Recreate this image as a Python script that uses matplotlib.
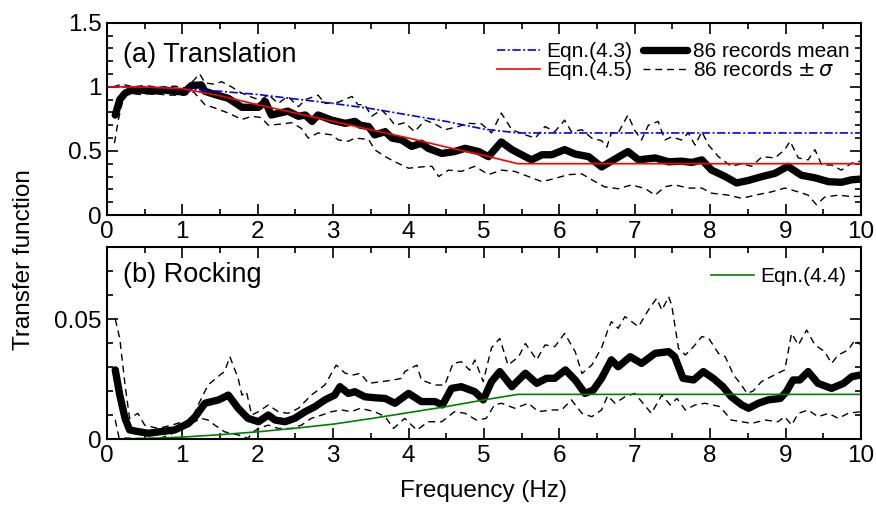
import numpy as np
import matplotlib
matplotlib.use("Agg")
import matplotlib.pyplot as plt
from matplotlib.ticker import MultipleLocator, FuncFormatter

plt.rcParams["font.family"] = ["Liberation Sans", "DejaVu Sans"]
plt.rcParams["mathtext.fontset"] = "dejavusans"

# ====== (a) translation: 86 records mean / ± sigma ======
freq_a_mean = [0.11, 0.17, 0.24, 0.31, 0.45, 0.6, 0.75, 0.9, 1.03, 1.12, 1.25, 1.30,
               1.43, 1.61, 1.79, 2.01, 2.10, 2.18, 2.40, 2.54, 2.63, 2.72, 2.80, 2.98,
               3.16, 3.29, 3.36, 3.47, 3.55, 3.69, 3.78, 3.91, 4.04, 4.17, 4.26, 4.44,
               4.61, 4.75, 4.93, 5.06, 5.23, 5.37, 5.50, 5.63, 5.77, 5.90, 6.07, 6.21,
               6.39, 6.56, 6.69, 6.91, 7.05, 7.27, 7.45, 7.62, 7.76, 7.89, 8.02, 8.20,
               8.35, 8.51, 8.69, 8.86, 9.03, 9.21, 9.39, 9.57, 9.74, 9.88, 10.0]
mean_a = [0.78, 0.90, 0.95, 0.97, 0.975, 0.965, 0.975, 0.965, 0.96, 1.01, 1.015, 0.965,
          0.94, 0.91, 0.84, 0.84, 0.885, 0.78, 0.81, 0.77, 0.78, 0.73, 0.78, 0.74,
          0.715, 0.73, 0.70, 0.69, 0.625, 0.65, 0.60, 0.585, 0.535, 0.56, 0.52, 0.48,
          0.495, 0.52, 0.495, 0.455, 0.57, 0.51, 0.47, 0.43, 0.47, 0.47, 0.51, 0.475,
          0.455, 0.375, 0.42, 0.495, 0.43, 0.445, 0.415, 0.42, 0.41, 0.43, 0.35, 0.30,
          0.25, 0.27, 0.30, 0.325, 0.38, 0.31, 0.29, 0.26, 0.255, 0.275, 0.28]

freq_a_hi = [0.08, 0.2, 0.35, 0.5, 0.7, 0.9, 1.05, 1.15, 1.23, 1.30, 1.43, 1.52, 1.65,
             1.79, 1.96, 2.05, 2.14, 2.27, 2.40, 2.54, 2.63, 2.80, 2.89, 3.07, 3.25,
             3.33, 3.42, 3.51, 3.64, 3.73, 3.82, 3.95, 4.08, 4.22, 4.35, 4.48, 4.66,
             4.79, 4.97, 5.10, 5.23, 5.37, 5.55, 5.68, 5.81, 5.94, 6.07, 6.16, 6.30,
             6.43, 6.56, 6.63, 6.69, 6.78, 6.91, 7.0, 7.09, 7.18, 7.31, 7.40, 7.49,
             7.62, 7.71, 7.80, 7.89, 7.98, 8.11, 8.28, 8.42, 8.55, 8.69, 8.86, 8.99,
             9.06, 9.17, 9.30, 9.39, 9.48, 9.61, 9.74, 9.88, 10.0]
hi_a = [1.00, 1.02, 1.0, 1.01, 0.995, 1.005, 0.99, 1.05, 1.10, 1.03, 1.02, 1.04, 1.0,
        0.95, 0.91, 0.90, 0.94, 0.87, 0.925, 0.845, 0.90, 0.935, 0.87, 0.88, 0.925,
        0.86, 0.86, 0.77, 0.82, 0.77, 0.70, 0.72, 0.65, 0.74, 0.71, 0.665, 0.69,
        0.715, 0.71, 0.64, 0.795, 0.665, 0.625, 0.60, 0.69, 0.65, 0.74, 0.65, 0.665,
        0.60, 0.58, 0.53, 0.64, 0.64, 0.78, 0.66, 0.585, 0.70, 0.73, 0.585, 0.61,
        0.585, 0.64, 0.545, 0.65, 0.545, 0.455, 0.38, 0.40, 0.38, 0.455, 0.445, 0.51,
        0.575, 0.445, 0.43, 0.51, 0.39, 0.39, 0.35, 0.405, 0.42]

freq_a_lo = [0.10, 0.15, 0.22, 0.28, 0.45, 0.6, 0.8, 1.03, 1.15, 1.30, 1.43, 1.61, 1.79,
             1.92, 2.05, 2.14, 2.32, 2.45, 2.58, 2.67, 2.80, 2.98, 3.07, 3.20, 3.29,
             3.47, 3.55, 3.69, 3.82, 4.0, 4.17, 4.31, 4.40, 4.53, 4.70, 4.88, 5.06,
             5.23, 5.41, 5.59, 5.77, 5.94, 6.12, 6.30, 6.43, 6.60, 6.78, 6.96, 7.14,
             7.27, 7.40, 7.53, 7.71, 7.89, 8.02, 8.24, 8.42, 8.60, 8.81, 8.99, 9.17,
             9.30, 9.41, 9.52, 9.70, 9.85, 10.0]
lo_a = [0.56, 0.74, 0.92, 0.95, 0.94, 0.95, 0.935, 0.935, 0.96, 0.86, 0.835, 0.795, 0.745,
        0.77, 0.76, 0.70, 0.71, 0.72, 0.675, 0.60, 0.64, 0.625, 0.585, 0.575, 0.60,
        0.59, 0.51, 0.455, 0.415, 0.365, 0.375, 0.38, 0.30, 0.35, 0.34, 0.38, 0.315,
        0.35, 0.34, 0.30, 0.26, 0.285, 0.315, 0.32, 0.275, 0.22, 0.205, 0.235, 0.205,
        0.155, 0.22, 0.235, 0.21, 0.21, 0.17, 0.155, 0.13, 0.155, 0.18, 0.21, 0.18,
        0.155, 0.08, 0.14, 0.155, 0.145, 0.145]

# Eqn.(4.3) and Eqn.(4.5)
freq_eq = [0.0, 0.5, 1.0, 1.5, 2.0, 2.5, 3.0, 3.5, 4.0, 4.5, 5.0, 5.45, 10.0]
eq43 = [1.0, 0.998, 0.985, 0.965, 0.94, 0.905, 0.87, 0.83, 0.78, 0.73, 0.67, 0.64, 0.64]
eq45 = [1.0, 0.998, 0.985, 0.93, 0.86, 0.795, 0.73, 0.665, 0.60, 0.53, 0.465, 0.40, 0.40]

# ====== (b) rocking ======
freq_b_mean = [0.11, 0.17, 0.24, 0.30, 0.41, 0.55, 0.72, 0.90, 1.08, 1.17, 1.30, 1.48,
               1.61, 1.74, 1.87, 2.01, 2.14, 2.23, 2.36, 2.49, 2.63, 2.76, 2.89, 3.02,
               3.09, 3.20, 3.29, 3.42, 3.55, 3.69, 3.82, 4.00, 4.17, 4.35, 4.45, 4.57,
               4.70, 4.88, 4.99, 5.10, 5.21, 5.37, 5.55, 5.70, 5.83, 5.94, 6.08, 6.21,
               6.34, 6.45, 6.56, 6.69, 6.78, 6.94, 7.09, 7.27, 7.45, 7.53, 7.64, 7.78,
               7.91, 8.04, 8.17, 8.28, 8.42, 8.51, 8.64, 8.77, 8.93, 9.01, 9.10, 9.19,
               9.30, 9.43, 9.61, 9.77, 9.88, 10.0]
mean_b = [0.0288, 0.0183, 0.0086, 0.0038, 0.0031, 0.0024, 0.0031, 0.0038, 0.0065, 0.0093,
          0.0149, 0.0163, 0.0183, 0.0128, 0.0086, 0.0072, 0.0100, 0.0079, 0.0072, 0.0086,
          0.0114, 0.0135, 0.0163, 0.0183, 0.0218, 0.0190, 0.0197, 0.0176, 0.0172, 0.0169,
          0.0149, 0.0190, 0.0156, 0.0156, 0.0142, 0.0211, 0.0218, 0.0197, 0.0163, 0.0239,
          0.0281, 0.0218, 0.0274, 0.0232, 0.0253, 0.0253, 0.0288, 0.0246, 0.0190, 0.0204,
          0.0253, 0.0330, 0.0301, 0.0343, 0.0315, 0.0357, 0.0364, 0.0343, 0.0253, 0.0246,
          0.0281, 0.0253, 0.0218, 0.0176, 0.0142, 0.0128, 0.0149, 0.0163, 0.0169, 0.0197,
          0.0246, 0.0246, 0.0281, 0.0232, 0.0211, 0.0232, 0.0260, 0.0267]

freq_b_hi = [0.11, 0.17, 0.24, 0.30, 0.41, 0.50, 0.68, 0.86, 1.01, 1.12, 1.21, 1.34,
             1.50, 1.56, 1.63, 1.74, 1.79, 1.85, 1.92, 2.01, 2.14, 2.27, 2.40, 2.54,
             2.71, 2.89, 3.04, 3.16, 3.27, 3.36, 3.47, 3.64, 3.80, 3.91, 3.95, 4.11,
             4.17, 4.35, 4.48, 4.59, 4.70, 4.81, 4.88, 4.99, 5.10, 5.21, 5.32, 5.46,
             5.55, 5.70, 5.81, 5.94, 6.07, 6.21, 6.30, 6.43, 6.56, 6.65, 6.69, 6.78,
             6.87, 6.96, 7.05, 7.18, 7.29, 7.36, 7.45, 7.49, 7.58, 7.67, 7.78, 7.89,
             7.98, 8.11, 8.20, 8.31, 8.40, 8.49, 8.57, 8.68, 8.81, 8.99, 9.08, 9.17,
             9.28, 9.39, 9.52, 9.61, 9.70, 9.83, 9.92, 10.0]
hi_b = [0.0500, 0.0419, 0.0225, 0.0086, 0.0107, 0.0058, 0.0044, 0.0058, 0.0072, 0.0079,
        0.0142, 0.0225, 0.0267, 0.0281, 0.0343, 0.0253, 0.0183, 0.0197, 0.0100, 0.0114,
        0.0142, 0.0114, 0.0107, 0.0128, 0.0183, 0.0225, 0.0308, 0.0274, 0.0267, 0.0274,
        0.0232, 0.0239, 0.0246, 0.0253, 0.0281, 0.0308, 0.0246, 0.0225, 0.0225, 0.0315,
        0.0322, 0.0287, 0.0329, 0.0239, 0.0380, 0.0419, 0.0308, 0.0343, 0.0398, 0.0330,
        0.0392, 0.0385, 0.0440, 0.0364, 0.0273, 0.0308, 0.0380, 0.0460, 0.0489, 0.0461,
        0.0510, 0.0489, 0.0468, 0.0537, 0.0586, 0.0537, 0.0593, 0.0558, 0.0378, 0.0350,
        0.0385, 0.0427, 0.0420, 0.0357, 0.0343, 0.0267, 0.0232, 0.0190, 0.0200, 0.0239,
        0.0260, 0.0288, 0.0440, 0.0392, 0.0454, 0.0392, 0.0364, 0.0315, 0.0350, 0.0371,
        0.0412, 0.0392]

freq_b_lo = [0.11, 0.16, 0.40, 0.70, 0.85, 0.99, 1.12, 1.25, 1.34, 1.43, 1.56, 1.74,
             1.87, 1.94, 2.01, 2.14, 2.27, 2.45, 2.58, 2.71, 2.85, 2.98, 3.11, 3.24,
             3.36, 3.55, 3.69, 3.80, 3.95, 4.11, 4.26, 4.44, 4.61, 4.75, 4.90, 5.03,
             5.14, 5.23, 5.41, 5.59, 5.72, 5.90, 6.03, 6.16, 6.30, 6.43, 6.56, 6.64,
             6.74, 6.87, 7.00, 7.11, 7.22, 7.36, 7.47, 7.56, 7.67, 7.80, 7.93, 8.13,
             8.28, 8.42, 8.55, 8.73, 8.90, 8.99, 9.08, 9.17, 9.30, 9.43, 9.57, 9.70,
             9.83, 10.0]
lo_b = [0.0080, 0.0005, 0.0002, 0.0003, 0.0020, 0.0046, 0.0065, 0.0086, 0.0079, 0.0058,
        0.0030, 0.0017, 0.0003, 0.0030, 0.0044, 0.0058, 0.0044, 0.0044, 0.0058, 0.0086,
        0.0100, 0.0114, 0.0121, 0.0114, 0.0128, 0.0114, 0.0093, 0.0044, 0.0086, 0.0037,
        0.0072, 0.0072, 0.0114, 0.0107, 0.0079, 0.0086, 0.0142, 0.0149, 0.0128, 0.0149,
        0.0114, 0.0121, 0.0121, 0.0163, 0.0107, 0.0093, 0.0121, 0.0180, 0.0149, 0.0176,
        0.0190, 0.0149, 0.0107, 0.0183, 0.0142, 0.0169, 0.0121, 0.0142, 0.0149, 0.0135,
        0.0079, 0.0072, 0.0065, 0.0079, 0.0072, 0.0093, 0.0058, 0.0107, 0.0121, 0.0093,
        0.0107, 0.0086, 0.0107, 0.0114]

# Eqn.(4.4)
eq44 = [0.0, 0.0002, 0.0008, 0.0018, 0.0030, 0.0045, 0.0062, 0.0085, 0.0110, 0.0135,
        0.0163, 0.0186, 0.0186]

# ====== 図 ======
fig = plt.figure(figsize=(8.76, 5.09), dpi=100)
ax1 = fig.add_axes([0.1221, 0.5776, 0.8607, 0.3778])
ax2 = fig.add_axes([0.1221, 0.1375, 0.8607, 0.3772])

mean_kw = dict(color="black", lw=5.3, solid_capstyle="round", solid_joinstyle="round")
sig_kw = dict(color="black", lw=1.0, dashes=(5, 3.5))

# (a)
l_lo, = ax1.plot(freq_a_lo, lo_a, **sig_kw)
l_hi, = ax1.plot(freq_a_hi, hi_a, label="86 records $\\pm\\,\\sigma$", **sig_kw)
l_mean, = ax1.plot(freq_a_mean, mean_a, label="86 records mean", **mean_kw)
l_43, = ax1.plot(freq_eq, eq43, color="#0000ff", lw=1.2, dashes=(5, 1.5, 1.2, 1.5),
                 label="Eqn.(4.3)")
l_45, = ax1.plot(freq_eq, eq45, color="#ff0000", lw=1.2, label="Eqn.(4.5)")

ax1.legend(handles=[l_43, l_45, l_mean, l_hi], ncol=2, loc="upper right",
           bbox_to_anchor=(0.985, 0.90), frameon=False, fontsize=15,
           handlelength=2.1, handletextpad=0.3, columnspacing=0.5,
           labelspacing=0.0, borderpad=0, borderaxespad=0)
ax1.text(0.021, 0.83, "(a) Translation", transform=ax1.transAxes,
         fontsize=19.5, va="center", ha="left")

ax1.set_ylim(0, 1.5)
ax1.yaxis.set_major_locator(MultipleLocator(0.5))
ax1.yaxis.set_minor_locator(MultipleLocator(0.1))

# (b)
ax2.plot(freq_b_lo, lo_b, **sig_kw)
ax2.plot(freq_b_hi, hi_b, **sig_kw)
ax2.plot(freq_b_mean, mean_b, **mean_kw)
l_44, = ax2.plot(freq_eq, eq44, color="#008000", lw=1.2, label="Eqn.(4.4)")

ax2.legend(handles=[l_44], loc="upper right", bbox_to_anchor=(0.981, 0.895),
           frameon=False, fontsize=15, handlelength=2.1, handletextpad=0.3,
           borderpad=0, borderaxespad=0)
ax2.text(0.021, 0.854, "(b) Rocking", transform=ax2.transAxes,
         fontsize=19.5, va="center", ha="left")

ax2.set_ylim(0, 0.08)
ax2.yaxis.set_major_locator(MultipleLocator(0.05))
ax2.yaxis.set_minor_locator(MultipleLocator(0.01))

fmt = FuncFormatter(lambda v, p: f"{v:g}")
for ax in (ax1, ax2):
    ax.set_xlim(0, 10)
    ax.xaxis.set_major_locator(MultipleLocator(1))
    ax.xaxis.set_minor_locator(MultipleLocator(0.5))
    ax.xaxis.set_major_formatter(fmt)
    ax.yaxis.set_major_formatter(fmt)
    for s in ax.spines.values():
        s.set_linewidth(1.5)
    ax.tick_params(which="both", direction="in", top=True, right=True,
                   labelsize=17.5, width=1.2)
    ax.tick_params(which="major", length=8)
    ax.tick_params(which="minor", length=4.5)
    ax.tick_params(axis="x", pad=4)
    ax.tick_params(axis="y", pad=4)

fig.text(0.027, 0.49, "Transfer function", rotation=90, fontsize=17.5,
         ha="center", va="center")
fig.text(0.5525, 0.035, "Frequency (Hz)", fontsize=17.5, ha="center", va="center")

fig.savefig("out.png", dpi=100)
